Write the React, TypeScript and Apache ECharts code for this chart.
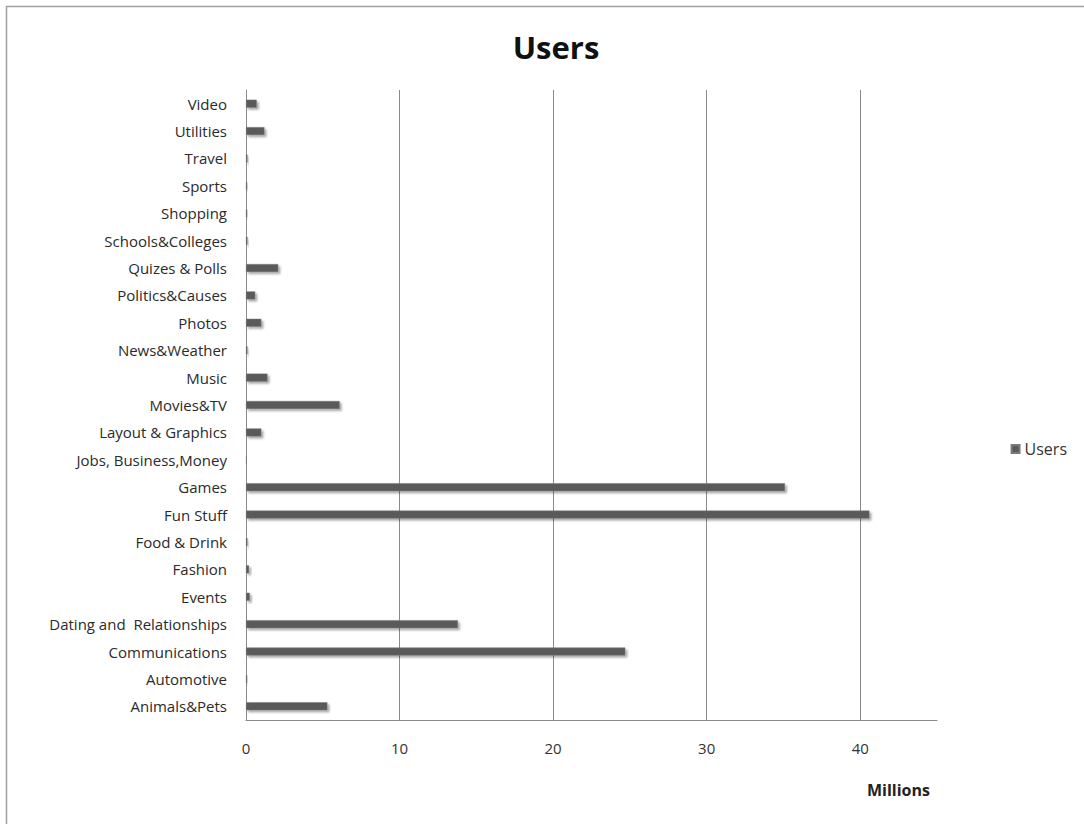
import React, { useEffect, useRef } from "react";
import * as echarts from "echarts";

const categories = [
  "Animals&Pets",
  "Automotive",
  "Communications",
  "Dating and  Relationships",
  "Events",
  "Fashion",
  "Food & Drink",
  "Fun Stuff",
  "Games",
  "Jobs, Business,Money",
  "Layout & Graphics",
  "Movies&TV",
  "Music",
  "News&Weather",
  "Photos",
  "Politics&Causes",
  "Quizes & Polls",
  "Schools&Colleges",
  "Shopping",
  "Sports",
  "Travel",
  "Utilities",
  "Video",
];

const users = [
  5.3, 0.08, 24.7, 13.8, 0.25, 0.2, 0.1, 40.6, 35.1, 0.05, 1.0, 6.1, 1.4, 0.1,
  1.0, 0.6, 2.1, 0.1, 0.08, 0.08, 0.1, 1.2, 0.7,
];

const xTicks = [0, 10, 20, 30, 40];

const FONT = "'Open Sans', 'Noto Sans', sans-serif";

export default function App() {
  const ref = useRef<HTMLDivElement>(null);
  useEffect(() => {
    if (!ref.current) return;
    const chart = echarts.init(ref.current, null, { renderer: "svg" });
    chart.setOption({
      animation: false,
      backgroundColor: "#ffffff",
      title: {
        text: "Users",
        left: 551,
        top: 26,
        textAlign: "center",
        textStyle: { fontFamily: FONT, fontSize: 31, fontWeight: "bold", color: "#111" },
      },
      legend: {
        data: ["Users"],
        right: 12,
        top: 436,
        icon: "rect",
        itemWidth: 8,
        itemHeight: 8,
        itemGap: 5,
        textStyle: { fontFamily: FONT, fontSize: 16, color: "#333" },
      },
      grid: { left: 246, right: 147, top: 90, bottom: 104, containLabel: false },
      xAxis: {
        type: "value",
        min: 0,
        max: 45,
        interval: 10,
        axisLine: { show: true, lineStyle: { color: "#8a8a8a", width: 1 } },
        axisTick: { show: false },
        splitLine: {
          show: true,
          showMinLine: false,
          showMaxLine: false,
          lineStyle: { color: "#8a8a8a", width: 1 },
        },
        axisLabel: {
          margin: 20,
          fontFamily: FONT,
          fontSize: 15,
          color: "#333",
          showMaxLabel: false,
          formatter: (v: number) => (xTicks.includes(v) ? String(v) : ""),
        },
      },
      yAxis: {
        type: "category",
        data: categories,
        axisLine: { show: true, lineStyle: { color: "#8a8a8a", width: 1 } },
        axisTick: { show: false },
        splitLine: { show: false },
        axisLabel: {
          margin: 19,
          fontFamily: FONT,
          fontSize: 15,
          color: "#2a2a2a",
        },
      },
      series: [
        {
          name: "Users",
          type: "bar",
          data: users,
          barWidth: 8,
          itemStyle: {
            color: "#5a5a5a",
            borderColor: "#7a7a7a",
            borderWidth: 0.5,
            shadowColor: "rgba(0,0,0,0.35)",
            shadowBlur: 2,
            shadowOffsetX: 2,
            shadowOffsetY: 2,
          },
        },
      ],
      graphic: [
        {
          type: "rect",
          shape: { x: 6.5, y: 6.5, width: 1200, height: 1000 },
          style: { fill: "none", stroke: "#a0a0a0", lineWidth: 1.5 },
          silent: true,
        },
        {
          type: "text",
          x: 930,
          y: 782,
          style: {
            text: "Millions",
            align: "right",
            fontFamily: FONT,
            fontSize: 16,
            fontWeight: "bold",
            fill: "#222",
          },
        },
      ],
    });
    return () => chart.dispose();
  }, []);
  return (
    <div
      ref={ref}
      style={{ position: "fixed", left: 0, top: 0, width: 1084, height: 824 }}
    />
  );
}
